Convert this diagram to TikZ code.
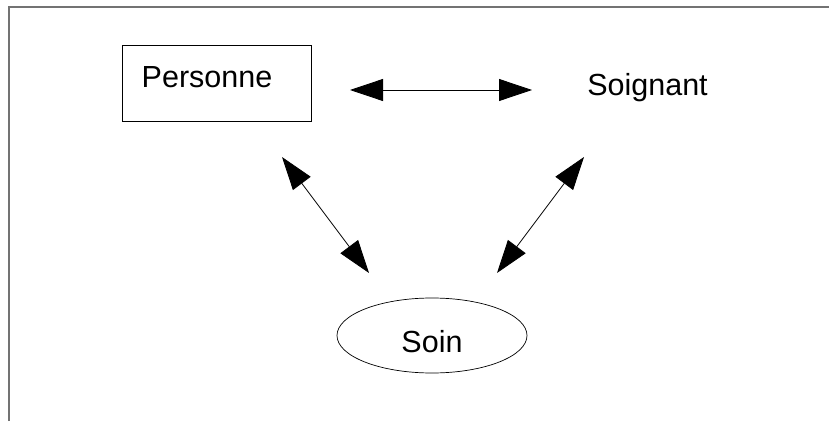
\documentclass[tikz,border=0pt]{standalone}
\usepackage{fontspec}
\setmainfont{Liberation Sans}
\usetikzlibrary{arrows.meta,shapes.geometric}
\begin{document}
\begin{tikzpicture}[x=1pt,y=1pt,
  lbl/.style={font=\fontsize{30.5}{36}\selectfont, inner sep=0pt},
  biarrow/.style={draw=black, line width=0.8pt, {Triangle[length=33pt,width=22pt]}-{Triangle[length=33pt,width=22pt]}},
  frameline/.style={draw=black!55, line width=1.4pt}
]
\useasboundingbox (0,0) rectangle (829,421);
% frame
\coordinate (fbl) at (9,0);
\coordinate (ftl) at (9,414);
\coordinate (ftr) at (829,414);
\draw[frameline] (fbl) -- (ftl) -- (ftr);
% Personne box
\node[draw=black, line width=0.9pt, minimum width=189pt, minimum height=76pt, inner sep=0pt] (pbox) at (216.5,338) {};
\node[lbl, anchor=base] (personne) at (207,333.5) {Personne};
% Soignant
\node[lbl, anchor=base] (soignant) at (647.5,325) {Soignant};
% Soin
\node[draw=black, line width=0.7pt, ellipse, minimum width=190pt, minimum height=75pt, inner sep=0pt, lbl, text height=33pt, text depth=0pt] (soin) at (432,85.5) {Soin};
% arrow endpoints
\coordinate (h1) at (350,331);
\coordinate (h2) at (532,331);
\coordinate (l1) at (282,264);
\coordinate (l2) at (369,148);
\coordinate (r1) at (584,264);
\coordinate (r2) at (497,148);
\draw[biarrow] (h1) -- (h2);
\draw[biarrow] (l1) -- (l2);
\draw[biarrow] (r1) -- (r2);
\end{tikzpicture}
\end{document}
